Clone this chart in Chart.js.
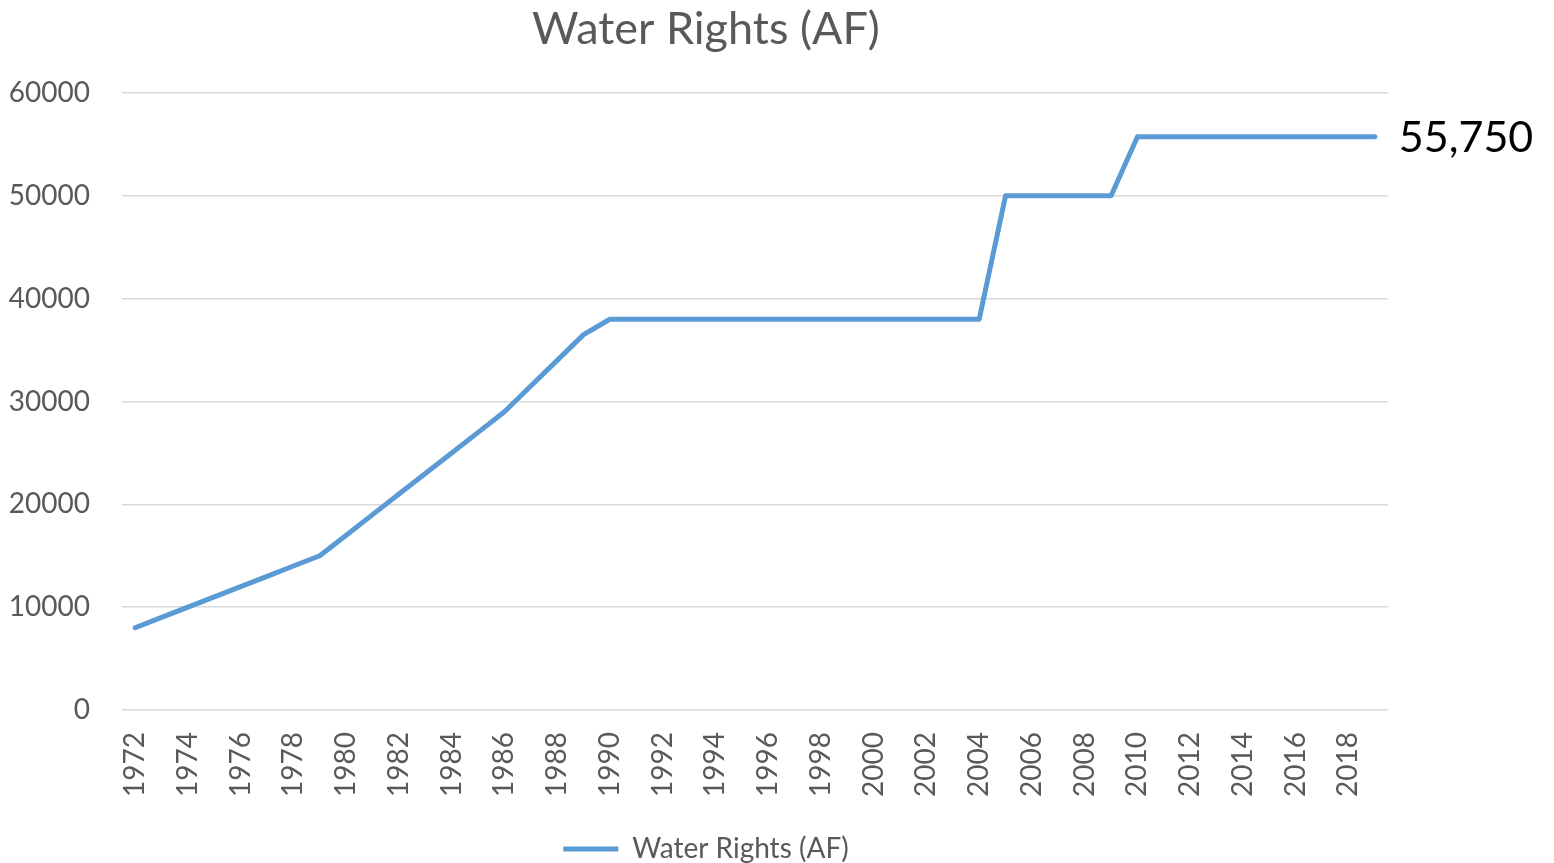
<!DOCTYPE html>
<html>
<head>
<meta charset="utf-8">
<script src="https://cdn.jsdelivr.net/npm/chart.js@4/dist/chart.umd.min.js"></script>
<style>
  html, body { margin: 0; padding: 0; background: #fff; }
  #wrap { width: 1554px; height: 863px; }
</style>
</head>
<body>
<div id="wrap"><canvas id="chart"></canvas></div>
<script>
// Datos del gráfico
const years = [];
for (let y = 1972; y <= 2019; y++) years.push(String(y));

const waterRights = [
  8000, 9000, 10000, 11000, 12000, 13000, 14000, 15000,   // 1972-1979
  17000, 19000, 21000, 23000, 25000, 27000, 29000,        // 1980-1986
  31500, 34000, 36500, 38000,                             // 1987-1990
  38000, 38000, 38000, 38000, 38000, 38000, 38000,        // 1991-1997
  38000, 38000, 38000, 38000, 38000, 38000, 38000,        // 1998-2004
  50000, 50000, 50000, 50000, 50000,                      // 2005-2009
  55750, 55750, 55750, 55750, 55750, 55750, 55750,        // 2010-2016
  55750, 55750, 55750                                     // 2017-2019
];

const seriesLabel = 'Water Rights (AF)';
const chartTitle = 'Water Rights (AF)';
const yTicks = [0, 10000, 20000, 30000, 40000, 50000, 60000];

const FONT = 'Lato, "Open Sans", sans-serif';
const GREY = '#595959';
const BLUE = '#5B9BD5';

// Etiqueta con el último valor
const lastLabel = {
  id: 'lastLabel',
  afterDatasetsDraw(chart) {
    const meta = chart.getDatasetMeta(0);
    const i = meta.data.length - 1;
    const pt = meta.data[i];
    const ctx = chart.ctx;
    ctx.save();
    ctx.font = '43px ' + FONT;
    ctx.fillStyle = '#000';
    ctx.textAlign = 'left';
    ctx.textBaseline = 'middle';
    ctx.fillText(waterRights[i].toLocaleString('en-US'), pt.x + 24, pt.y + 1);
    ctx.restore();
  }
};

const ctx = document.getElementById('chart').getContext('2d');
new Chart(ctx, {
  type: 'line',
  data: {
    labels: years,
    datasets: [{
      label: seriesLabel,
      data: waterRights,
      borderColor: BLUE,
      backgroundColor: BLUE,
      borderWidth: 5,
      borderCapStyle: 'round',
      borderJoinStyle: 'round',
      pointRadius: 0,
      tension: 0,
      fill: false
    }]
  },
  options: {
    responsive: true,
    maintainAspectRatio: false,
    animation: false,
    layout: { padding: { left: 0, right: 142, top: 0, bottom: -10 } },
    plugins: {
      title: {
        display: true,
        text: chartTitle,
        color: GREY,
        font: { family: FONT, size: 45, weight: 'normal' },
        padding: { top: 2, bottom: 37 }
      },
      legend: {
        position: 'bottom',
        labels: {
          color: GREY,
          font: { family: FONT, size: 28, lineHeight: 1 },
          usePointStyle: true,
          pointStyle: 'line',
          pointStyleWidth: 55,
          padding: 2
        }
      },
      tooltip: { enabled: false }
    },
    scales: {
      x: {
        offset: true,
        grid: { display: false, drawTicks: false },
        border: { display: false },
        ticks: {
          autoSkip: false,
          maxRotation: 90,
          minRotation: 90,
          padding: 22,
          color: GREY,
          font: { family: FONT, size: 28 },
          callback: function (v, i) { return i % 2 === 0 ? this.getLabelForValue(v) : ''; }
        },
        afterFit(scale) { scale.height = 123; }
      },
      y: {
        min: 0,
        max: 60000,
        afterBuildTicks(scale) { scale.ticks = yTicks.map(v => ({ value: v })); },
        grid: { color: '#D9D9D9', lineWidth: 1.5, drawTicks: false },
        border: { display: false },
        ticks: {
          padding: 32,
          color: GREY,
          font: { family: FONT, size: 28 },
          callback: v => String(v)
        },
        afterFit(scale) { scale.width = 122; }
      },
      // eje vacío a la derecha, solo reserva espacio
      yRight: {
        position: 'right',
        display: true,
        grid: { display: false, drawTicks: false },
        border: { display: false },
        ticks: { display: false },
        afterFit(scale) { scale.width = 24; }
      }
    }
  },
  plugins: [lastLabel]
});
</script>
</body>
</html>
